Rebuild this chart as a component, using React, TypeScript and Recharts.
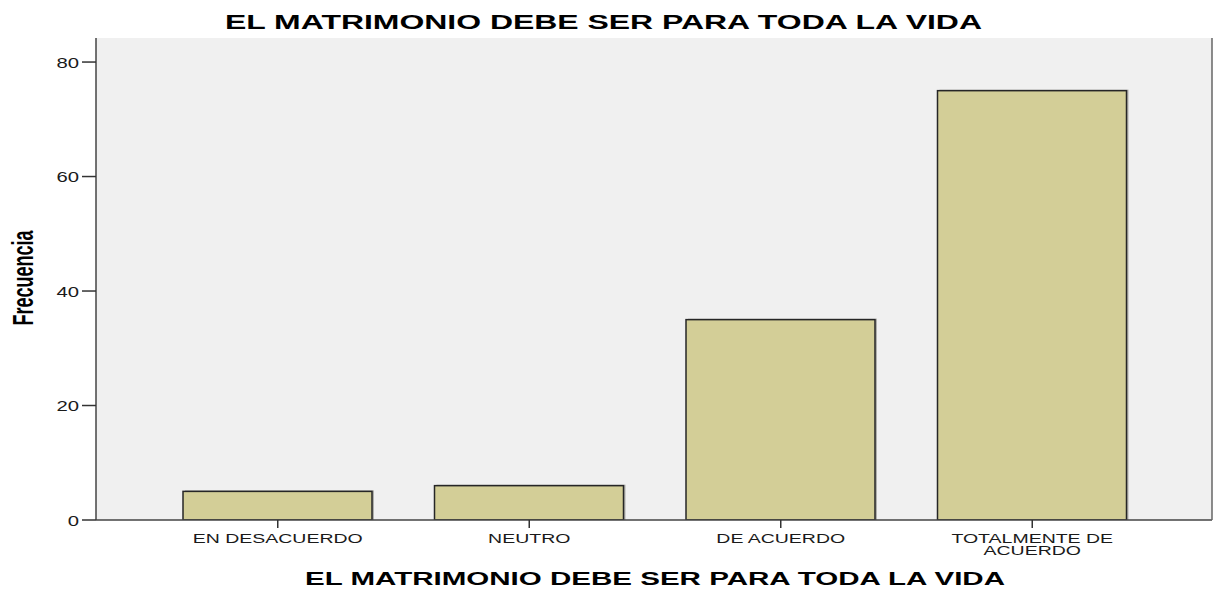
import React from "react";
import { BarChart, Bar, XAxis, YAxis, CartesianGrid } from "recharts";

const categories = ["EN DESACUERDO", "NEUTRO", "DE ACUERDO", "TOTALMENTE DE ACUERDO"];
const frecuencias = [5, 6, 35, 75];
const yTicks = [0, 20, 40, 60, 80];
const chartTitle = "EL MATRIMONIO DEBE SER PARA TODA LA VIDA";
const xAxisTitle = "EL MATRIMONIO DEBE SER PARA TODA LA VIDA";
const yAxisTitle = "Frecuencia";

const data = categories.map((c, i) => ({ name: c, value: frecuencias[i] }));

const FONT = "'Liberation Sans', Arial, Helvetica, sans-serif";
const W = 1214;
const H = 589;

function wrapLabel(s: string): string[] {
  if (s.length <= 15) return [s];
  const idx = s.lastIndexOf(" ");
  return [s.slice(0, idx), s.slice(idx + 1)];
}

const XTick = (props: any) => {
  const { x, y, payload } = props;
  const lines = wrapLabel(String(payload.value));
  return (
    <g transform={`translate(${x},${y}) scale(1.5,1)`}>
      {lines.map((l, i) => (
        <text
          key={i}
          x={0}
          y={13 + i * 12}
          textAnchor="middle"
          fontFamily={FONT}
          fontSize={13}
          fill="#1a1a1a"
        >
          {l}
        </text>
      ))}
    </g>
  );
};

const YTick = (props: any) => {
  const { x, y, payload } = props;
  return (
    <g transform={`translate(${x - 1},${y + 5.5}) scale(1.45,1)`}>
      <text x={0} y={0} textAnchor="end" fontFamily={FONT} fontSize={14} fill="#1a1a1a">
        {payload.value}
      </text>
    </g>
  );
};

const BarShape = (props: any) => {
  const { x, y, width, height } = props;
  if (!height || height <= 0) return null;
  return (
    <g>
      <rect x={x + 2} y={y - 1} width={width} height={height + 1} fill="#7d7d76" opacity={0.55} />
      <rect
        x={x}
        y={y}
        width={width}
        height={height}
        fill="#d3ce97"
        stroke="#262626"
        strokeWidth={1.5}
      />
    </g>
  );
};

export default function App() {
  return (
    <div style={{ position: "absolute", left: 0, top: 0, width: W, height: H, background: "#ffffff" }}>
      <BarChart
        width={W}
        height={H}
        data={data}
        margin={{ top: 38, right: 0, left: 0, bottom: 19 }}
      >
        <CartesianGrid fill="#f0f0f0" stroke="none" horizontal={false} vertical={false} />
        <XAxis
          dataKey="name"
          xAxisId={0}
          height={50}
          padding={{ left: 56, right: 54 }}
          tickSize={8}
          tickMargin={2}
          tick={<XTick />}
          axisLine={{ stroke: "#444444", strokeWidth: 1.5 }}
          tickLine={{ stroke: "#333333", strokeWidth: 1.5 }}
          interval={0}
        />
        <XAxis
          dataKey="name"
          xAxisId="top"
          orientation="top"
          height={0}
          tick={false}
          tickLine={false}
          axisLine={{ stroke: "#666666", strokeWidth: 1.5 }}
        />
        <YAxis
          yAxisId={0}
          width={96}
          domain={[0, 84.2]}
          ticks={yTicks}
          tickSize={14}
          tickMargin={2}
          tick={<YTick />}
          axisLine={{ stroke: "#444444", strokeWidth: 1.5 }}
          tickLine={{ stroke: "#333333", strokeWidth: 1.5 }}
          allowDataOverflow
        />
        <YAxis
          yAxisId="r"
          orientation="right"
          width={2}
          domain={[0, 84.2]}
          tick={false}
          tickLine={false}
          axisLine={{ stroke: "#666666", strokeWidth: 1.5 }}
        />
        <Bar
          dataKey="value"
          xAxisId={0}
          yAxisId={0}
          barSize={189}
          shape={<BarShape />}
          isAnimationActive={false}
        />
        <text
          x={225}
          y={29}
          fontFamily={FONT}
          fontWeight="bold"
          fontSize={20}
          fill="#000000"
          textLength={757}
          lengthAdjust="spacingAndGlyphs"
        >
          {chartTitle}
        </text>
        <text
          x={305}
          y={585}
          fontFamily={FONT}
          fontWeight="bold"
          fontSize={19}
          fill="#000000"
          textLength={700}
          lengthAdjust="spacingAndGlyphs"
        >
          {xAxisTitle}
        </text>
        <g transform="translate(33,278) scale(1.6,1) rotate(-90)">
          <text
            x={0}
            y={0}
            textAnchor="middle"
            fontFamily={FONT}
            fontWeight="bold"
            fontSize={18}
            fill="#000000"
          >
            {yAxisTitle}
          </text>
        </g>
      </BarChart>
    </div>
  );
}
